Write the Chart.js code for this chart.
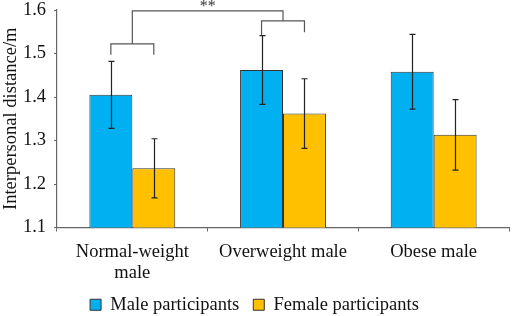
<!DOCTYPE html>
<html>
<head>
<meta charset="utf-8">
<script src="https://cdn.jsdelivr.net/npm/chart.js@4/dist/chart.umd.min.js"></script>
<style>
  html, body { margin: 0; padding: 0; background: #fff; }
  #wrap { width: 512px; height: 316px; }
</style>
</head>
<body>
<div id="wrap"><canvas id="chart_distance"></canvas></div>
<script>
var categories = [['Normal-weight', 'male'], 'Overweight male', 'Obese male'];
var maleValues = [1.405, 1.462, 1.458];
var maleErrors = [0.077, 0.079, 0.086];
var femaleValues = [1.236, 1.362, 1.313];
var femaleErrors = [0.068, 0.080, 0.081];
var yTicks = [1.1, 1.2, 1.3, 1.4, 1.5, 1.6];
var errors = [maleErrors, femaleErrors];

var FONT = '"Liberation Serif", "Times New Roman", serif';

var errorBarPlugin = {
    id: 'errorBars',
    afterDatasetsDraw: function (chart) {
        var ctx = chart.ctx;
        var y = chart.scales.y;
        ctx.save();
        ctx.strokeStyle = '#222';
        ctx.lineWidth = 1.2;
        chart.data.datasets.forEach(function (ds, i) {
            chart.getDatasetMeta(i).data.forEach(function (bar, j) {
                var v = ds.data[j], e = errors[i][j];
                var x = Math.round(bar.x) + 0.5;
                var top = y.getPixelForValue(v + e), bot = y.getPixelForValue(v - e);
                ctx.beginPath();
                ctx.moveTo(x, top); ctx.lineTo(x, bot);
                ctx.moveTo(x - 3, top); ctx.lineTo(x + 3, top);
                ctx.moveTo(x - 3, bot); ctx.lineTo(x + 3, bot);
                ctx.stroke();
            });
        });
        ctx.restore();
    }
};

var bracketPlugin = {
    id: 'brackets',
    afterDraw: function (chart) {
        var ctx = chart.ctx;
        var y = chart.scales.y;
        var m0 = chart.getDatasetMeta(0).data, m1 = chart.getDatasetMeta(1).data;
        function bracket(x1, x2, yl, y1, y2) {
            var p = y.getPixelForValue(yl);
            ctx.beginPath();
            ctx.moveTo(x1, y.getPixelForValue(y1));
            ctx.lineTo(x1, p);
            ctx.lineTo(x2, p);
            ctx.lineTo(x2, y.getPixelForValue(y2));
            ctx.stroke();
        }
        ctx.save();
        ctx.strokeStyle = '#555';
        ctx.lineWidth = 1.2;
        var a1 = m0[0].x, a2 = m1[0].x, b1 = m0[1].x, b2 = m1[1].x;
        bracket(a1, a2, 1.522, 1.497, 1.497);
        bracket(b1, b2, 1.575, 1.542, 1.549);
        var ca = (a1 + a2) / 2, cb = (b1 + b2) / 2;
        bracket(ca, cb, 1.598, 1.522, 1.575);
        ctx.fillStyle = '#333';
        ctx.font = '16px ' + FONT;
        ctx.textAlign = 'center';
        ctx.textBaseline = 'middle';
        ctx.fillText('**', (ca + cb) / 2, y.getPixelForValue(1.598) - 4);
        ctx.restore();
    }
};

new Chart(document.getElementById('chart_distance'), {
    type: 'bar',
    data: {
        labels: categories,
        datasets: [
            {
                label: 'Male participants',
                data: maleValues,
                backgroundColor: '#00B0F0',
                borderColor: '#333',
                borderWidth: 1
            },
            {
                label: 'Female participants',
                data: femaleValues,
                backgroundColor: '#FFC000',
                borderColor: '#333',
                borderWidth: 1
            }
        ]
    },
    options: {
        animation: false,
        responsive: true,
        maintainAspectRatio: false,
        categoryPercentage: 0.57,
        barPercentage: 1.0,
        layout: { padding: { top: 0, right: 3, left: 0, bottom: -8 } },
        plugins: {
            legend: {
                position: 'bottom',
                labels: {
                    font: { family: FONT, size: 18.5 },
                    color: '#111',
                    boxWidth: 11,
                    boxHeight: 11,
                    padding: 14
                }
            },
            tooltip: { enabled: false }
        },
        scales: {
            x: {
                grid: { display: true, drawOnChartArea: false, offset: true, tickLength: 4, color: '#666' },
                border: { color: '#666', width: 1.2 },
                ticks: { font: { family: FONT, size: 18.5, lineHeight: 1.15 }, color: '#111', maxRotation: 0, padding: 10 },
                afterFit: function (s) { s.height = 54; }
            },
            y: {
                min: 1.1,
                max: 1.6,
                afterBuildTicks: function (s) { s.ticks = yTicks.map(function (v) { return { value: v }; }); },
                grid: { display: true, drawOnChartArea: false, tickLength: 3, color: '#666' },
                border: { color: '#666', width: 1.2 },
                ticks: {
                    font: { family: FONT, size: 18.5 },
                    color: '#111',
                    padding: 8,
                    callback: function (v) { return Number(v).toFixed(1); }
                },
                title: {
                    display: true,
                    text: 'Interpersonal distance/m',
                    font: { family: FONT, size: 18.5 },
                    color: '#111',
                    padding: 0
                },
                afterFit: function (s) { s.width = 57; s.paddingTop = 10; s.paddingBottom = 0; }
            }
        }
    },
    plugins: [errorBarPlugin, bracketPlugin]
});
</script>
</body>
</html>
